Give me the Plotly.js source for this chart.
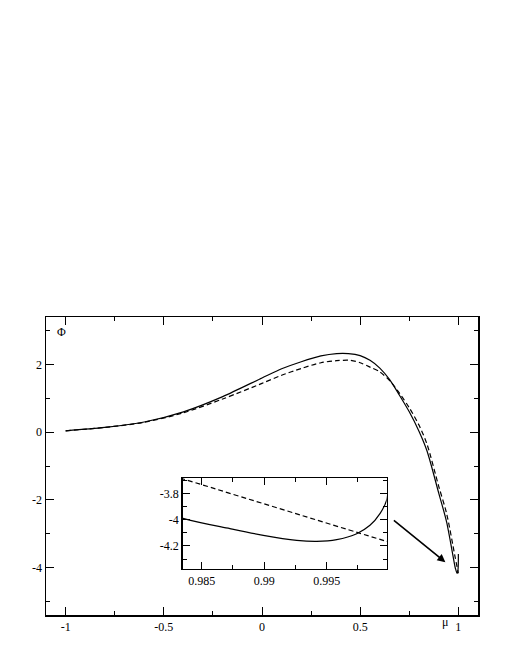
<!DOCTYPE html>
<html>
<head>
<meta charset="utf-8">
<script src="https://cdn.plot.ly/plotly-3.0.1.min.js"></script>
<style>
  html, body { margin: 0; padding: 0; background: #fff; }
  #plot { width: 510px; height: 660px; }
</style>
</head>
<body>
<div id="plot"></div>
<script>
// Solid curve
const muSolid = [-1, -0.8, -0.6, -0.4, -0.2, 0, 0.1, 0.2, 0.3, 0.38, 0.44, 0.5, 0.55, 0.6, 0.65, 0.7, 0.75, 0.8, 0.84, 0.9, 0.94,
  0.9835, 0.98726, 0.98993, 0.9926, 0.9942, 0.9958, 0.9974, 0.99846, 0.99926, 0.9998, 1.0];
const phiSolid = [0.04, 0.14, 0.3, 0.6, 1.05, 1.6, 1.87, 2.08, 2.25, 2.32, 2.32, 2.26, 2.12, 1.89, 1.55, 1.09, 0.6, 0.02, -0.55, -1.8, -2.65,
  -3.99, -4.068, -4.119, -4.157, -4.165, -4.152, -4.107, -4.043, -3.954, -3.85, -3.6];

// Dashed curve
const muDashed = [-1, -0.8, -0.6, -0.4, -0.2, 0, 0.1, 0.2, 0.3, 0.38, 0.45, 0.5, 0.55, 0.6, 0.65, 0.7, 0.75, 0.8, 0.84, 0.9, 0.94, 0.9835, 0.9998, 1.0];
const phiDashed = [0.04, 0.14, 0.29, 0.57, 0.98, 1.44, 1.68, 1.88, 2.05, 2.11, 2.12, 2.05, 1.92, 1.78, 1.52, 1.15, 0.72, 0.2, -0.35, -1.6, -2.4, -3.69, -4.165, -4.17];

// Main axis ticks
const mainXTicks = [-1, -0.5, 0, 0.5, 1];
const mainXLabels = ['-1', '-0.5', '0', '0.5', '1'];
const mainYTicks = [-4, -2, 0, 2];
const mainYLabels = ['-4', '-2', '0', '2'];

// Inset ticks
const insetXTicks = [0.985, 0.99, 0.995];
const insetXLabels = ['0.985', '0.99', '0.995'];
const insetYTicks = [-4.2, -4, -3.8];
const insetYLabels = ['-4.2', '-4', '-3.8'];

const tickFont = {family: 'Liberation Serif, serif', size: 12, color: '#000'};

const solidLine = {color: '#000', width: 1.2, shape: 'spline', smoothing: 0.8};
const dashedLine = {color: '#000', width: 1.2, dash: '5px,3px', shape: 'spline', smoothing: 0.8};

const traces = [
  {x: muSolid, y: phiSolid, type: 'scatter', mode: 'lines', line: solidLine, xaxis: 'x', yaxis: 'y', hoverinfo: 'skip'},
  {x: muDashed, y: phiDashed, type: 'scatter', mode: 'lines', line: dashedLine, xaxis: 'x', yaxis: 'y', hoverinfo: 'skip'},
  {x: muSolid, y: phiSolid, type: 'scatter', mode: 'lines', line: solidLine, xaxis: 'x2', yaxis: 'y2', hoverinfo: 'skip'},
  {x: muDashed, y: phiDashed, type: 'scatter', mode: 'lines', line: dashedLine, xaxis: 'x2', yaxis: 'y2', hoverinfo: 'skip'}
];

function frameAxis(extra) {
  return Object.assign({
    showline: true,
    linecolor: '#000',
    linewidth: 1.5,
    mirror: 'ticks',
    ticks: 'inside',
    tickcolor: '#000',
    tickwidth: 1,
    showgrid: false,
    zeroline: false,
    tickfont: tickFont,
    fixedrange: true
  }, extra);
}

const layout = {
  width: 510,
  height: 660,
  margin: {l: 46, r: 32, t: 317, b: 45},
  paper_bgcolor: '#fff',
  plot_bgcolor: '#fff',
  showlegend: false,
  xaxis: frameAxis({
    range: [-1.1, 1.1],
    tickmode: 'array', tickvals: mainXTicks, ticktext: mainXLabels,
    ticklen: 8,
    minor: {dtick: 0.25, tick0: 0, ticks: 'inside', ticklen: 4, tickcolor: '#000', tickwidth: 1}
  }),
  yaxis: frameAxis({
    range: [-5.4, 3.4],
    tickmode: 'array', tickvals: mainYTicks, ticktext: mainYLabels,
    ticklen: 8,
    minor: {dtick: 1, tick0: 0, ticks: 'inside', ticklen: 4, tickcolor: '#000', tickwidth: 1}
  }),
  xaxis2: frameAxis({
    domain: [0.3164, 0.7887],
    anchor: 'y2',
    range: [0.98348, 0.9998],
    tickmode: 'array', tickvals: insetXTicks, ticktext: insetXLabels,
    ticklen: 7,
    minor: {dtick: 0.0025, tick0: 0.985, ticks: 'inside', ticklen: 4, tickcolor: '#000', tickwidth: 1}
  }),
  yaxis2: frameAxis({
    domain: [0.1544, 0.4587],
    anchor: 'x2',
    range: [-4.375, -3.686],
    tickmode: 'array', tickvals: insetYTicks, ticktext: insetYLabels,
    ticklen: 7,
    minor: {dtick: 0.1, tick0: -4, ticks: 'inside', ticklen: 4, tickcolor: '#000', tickwidth: 1}
  }),
  annotations: [
    {
      xref: 'x', yref: 'y', axref: 'x', ayref: 'y',
      x: 0.934, y: -3.84, ax: 0.664, ay: -2.57,
      text: '', showarrow: true,
      arrowhead: 2, arrowsize: 1, arrowwidth: 1.6, arrowcolor: '#000'
    },
    {
      xref: 'paper', yref: 'paper', x: 0.036, y: 0.951,
      xanchor: 'center', yanchor: 'middle', showarrow: false,
      text: 'Φ', font: tickFont
    },
    {
      xref: 'paper', yref: 'paper', x: 0.9236, y: -0.022,
      xanchor: 'center', yanchor: 'middle', showarrow: false,
      text: 'μ', font: tickFont
    }
  ]
};

Plotly.newPlot('plot', traces, layout, {staticPlot: true, displayModeBar: false});
</script>
</body>
</html>
